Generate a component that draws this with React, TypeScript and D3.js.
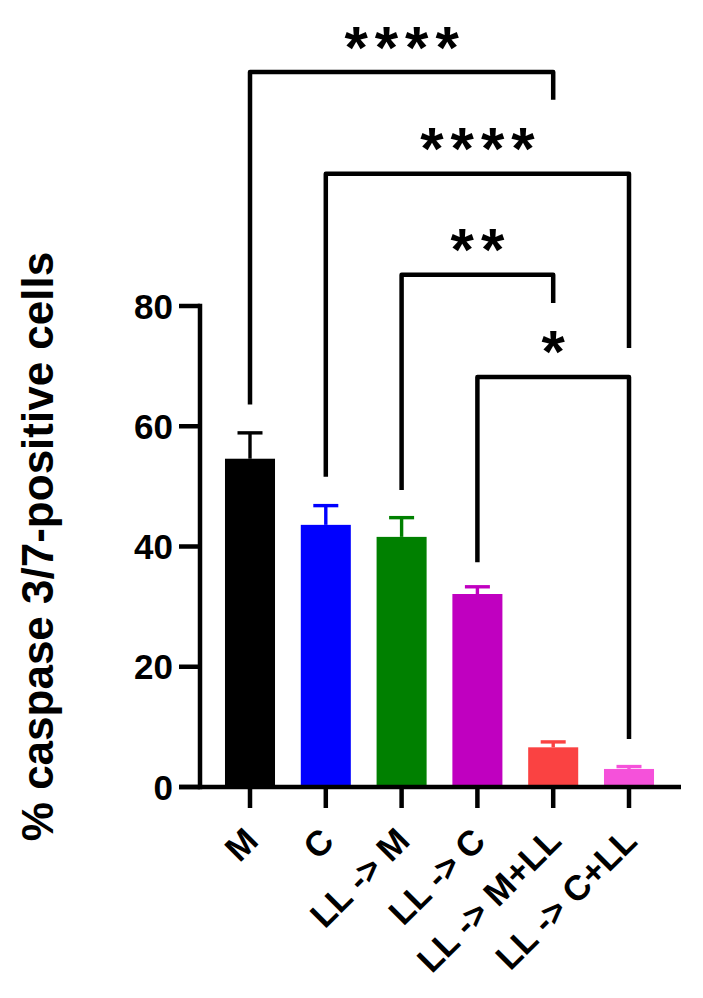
import React from "react";
import * as d3 from "d3";

const categories = ["M", "C", "LL -> M", "LL -> C", "LL -> M+LL", "LL -> C+LL"];
const means = [54.6, 43.6, 41.6, 32.1, 6.6, 3.0];
const sems = [4.3, 3.2, 3.2, 1.2, 0.9, 0.4];
const barColors = ["#000000", "#0000FF", "#008000", "#C000C0", "#FA4242", "#F551DA"];
const yTicks = [0, 20, 40, 60, 80];
const yTitle = "% caspase 3/7-positive cells";

// significance comparisons (indices into categories), levels in data units
const compFrom = [0, 1, 2, 3];
const compTo = [4, 5, 4, 5];
const compLabels = ["****", "****", "**", "*"];
const compLevel = [118.9, 102.0, 85.2, 68.2];
const compFromLegEnd = [63.6, 51.6, 49.4, 37.4];
const compToLegEnd = [114.3, 73.0, 80.5, 8.0];

const W = 703;
const H = 998;
const FONT = "'Liberation Sans', Arial, Helvetica, sans-serif";

export default function App() {
  const y = d3.scaleLinear().domain([0, 80]).range([787, 306]);
  const x = d3
    .scaleBand<string>()
    .domain(categories)
    .range([212.1, 666.9])
    .paddingInner(0.34)
    .paddingOuter(0.17);
  const bw = x.bandwidth();
  const cx = (i: number) => (x(categories[i]) as number) + bw / 2;
  const axisX = 200;
  const axisY = y(0);
  const sw = 4.5;

  return (
    <svg
      width={W}
      height={H}
      style={{ position: "absolute", left: 0, top: 0, background: "#fff" }}
      fontFamily={FONT}
    >
      <rect x={0} y={0} width={W} height={H} fill="#fff" />
      {/* bars */}
      {categories.map((c, i) => (
        <rect
          key={c}
          x={x(c)}
          y={y(means[i])}
          width={bw}
          height={axisY - y(means[i])}
          fill={barColors[i]}
        />
      ))}
      {/* error bars */}
      {categories.map((c, i) => {
        const top = y(means[i] + sems[i]);
        return (
          <g key={"e" + c} stroke={barColors[i]} strokeWidth={3.4}>
            <line x1={cx(i)} x2={cx(i)} y1={y(means[i])} y2={top} />
            <line x1={cx(i) - 12.5} x2={cx(i) + 12.5} y1={top} y2={top} />
          </g>
        );
      })}
      {/* y axis */}
      <line x1={axisX} x2={axisX} y1={y(80) - sw / 2} y2={axisY + sw / 2} stroke="#000" strokeWidth={sw} />
      {yTicks.map((t) => (
        <g key={"yt" + t}>
          <line x1={179} x2={axisX} y1={y(t)} y2={y(t)} stroke="#000" strokeWidth={sw} />
          <text
            x={173}
            y={y(t)}
            textAnchor="end"
            dominantBaseline="central"
            fontSize={35}
            fontWeight="bold"
          >
            {t}
          </text>
        </g>
      ))}
      {/* x axis */}
      <line x1={179} x2={681} y1={axisY} y2={axisY} stroke="#000" strokeWidth={sw} />
      {categories.map((c, i) => (
        <g key={"xt" + c}>
          <line x1={cx(i)} x2={cx(i)} y1={axisY} y2={axisY + 21} stroke="#000" strokeWidth={sw} />
          <text
            transform={`translate(${cx(i) + 10},${axisY + 56}) rotate(-45)`}
            textAnchor="end"
            fontSize={35}
            fontWeight="bold"
          >
            {c}
          </text>
        </g>
      ))}
      {/* y title */}
      <text
        transform={`translate(53,${(y(0) + y(80)) / 2}) rotate(-90)`}
        textAnchor="middle"
        fontSize={44}
        fontWeight="bold"
      >
        {yTitle}
      </text>
      {/* significance brackets */}
      {compFrom.map((f, k) => {
        const x1 = cx(f);
        const x2 = cx(compTo[k]);
        const ly = y(compLevel[k]);
        const p = d3.path();
        p.moveTo(x1, y(compFromLegEnd[k]));
        p.lineTo(x1, ly);
        p.lineTo(x2, ly);
        p.lineTo(x2, y(compToLegEnd[k]));
        return (
          <g key={"b" + k}>
            <path d={p.toString()} fill="none" stroke="#000" strokeWidth={sw} strokeLinejoin="round" />
            <text
              x={(x1 + x2) / 2 + 3.5}
              y={ly - 4.5}
              textAnchor="middle"
              fontSize={60}
              fontWeight="bold"
              letterSpacing={7}
            >
              {compLabels[k]}
            </text>
          </g>
        );
      })}
    </svg>
  );
}
